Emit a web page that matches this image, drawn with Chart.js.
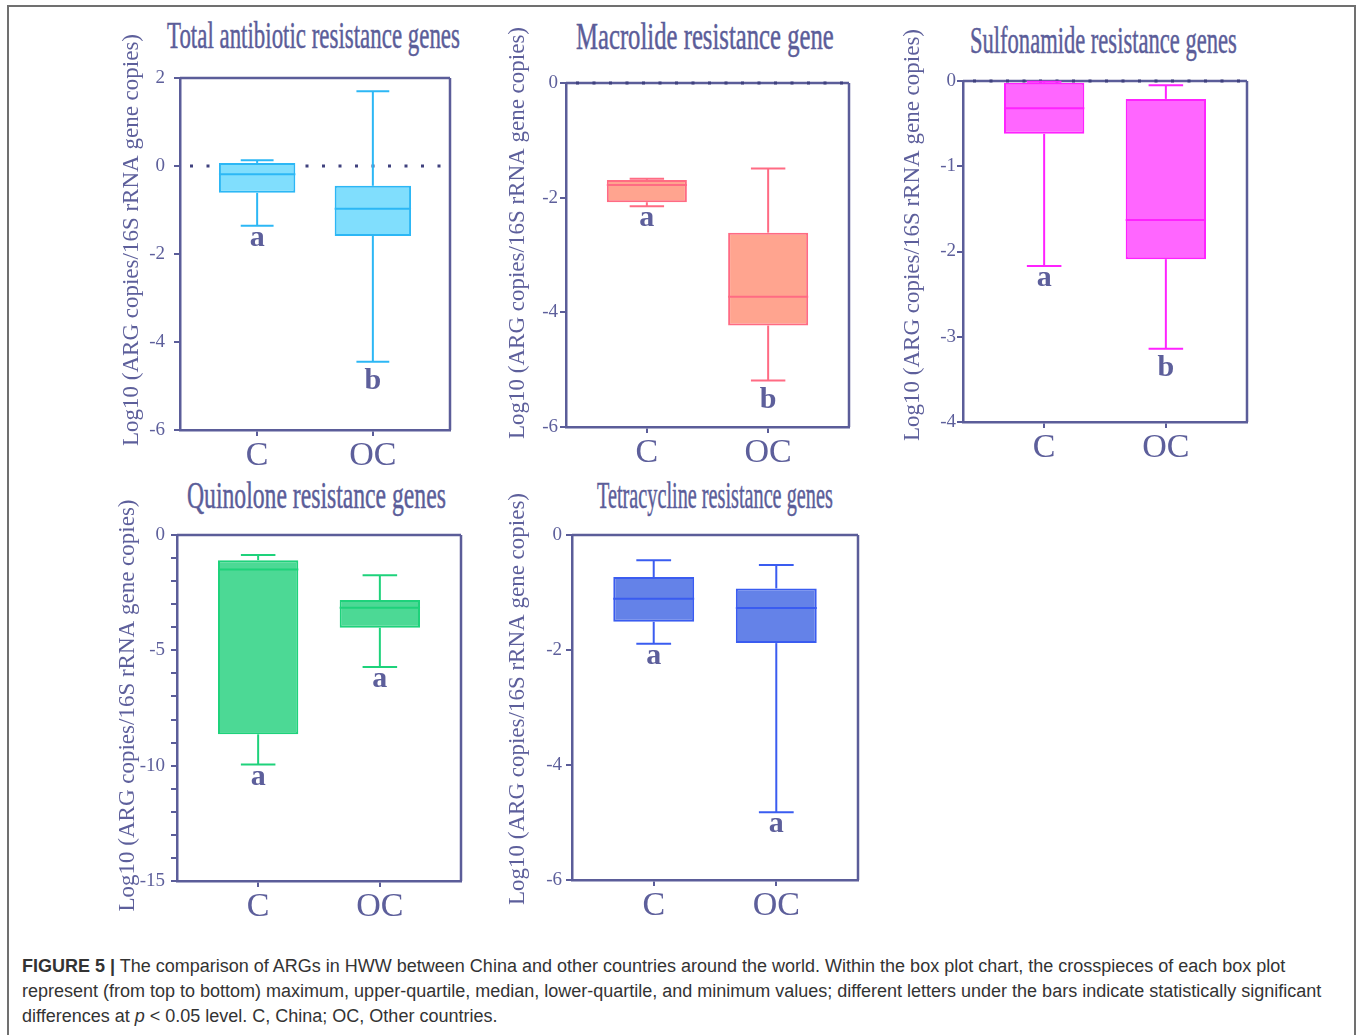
<!DOCTYPE html>
<html>
<head>
<meta charset="utf-8">
<script src="https://cdn.jsdelivr.net/npm/chart.js@4.4.1/dist/chart.umd.min.js"></script>
<style>
html,body{margin:0;padding:0;background:#fff;}
body{width:1360px;height:1035px;position:relative;overflow:hidden;}
#frame{position:absolute;left:7px;top:5px;width:1349px;height:1045px;border:2px solid #707070;box-sizing:border-box;}
.cv{position:absolute;}
.head{position:absolute;font-family:'Liberation Serif','Times New Roman',serif;font-size:38px;line-height:38px;color:#5b5d99;white-space:nowrap;transform-origin:0 0;-webkit-text-stroke:0.5px #5b5d99;}
#caption{position:absolute;left:22px;top:954px;font-family:'Liberation Sans',Arial,sans-serif;font-size:18px;line-height:25px;color:#333;white-space:nowrap;}
</style>
</head>
<body>
<div id="frame"></div>
<div id="caption"><b>FIGURE 5 |</b> The comparison of ARGs in HWW between China and other countries around the world. Within the box plot chart, the crosspieces of each box plot<br>represent (from top to bottom) maximum, upper-quartile, median, lower-quartile, and minimum values; different letters under the bars indicate statistically significant<br>differences at <i>p</i> &lt; 0.05 level. C, China; OC, Other countries.</div>
<script>
// ---------------- DATA ----------------
const categories = ['C', 'OC'];
const panelTitles = ['Total antibiotic resistance genes', 'Macrolide resistance gene', 'Sulfonamide resistance genes', 'Quinolone resistance genes', 'Tetracycline resistance genes'];
const yAxisTitle = 'Log10 (ARG copies/16S rRNA gene copies)';

// Total antibiotic resistance genes  [C, OC]
const totalMax     = [0.13, 1.70];
const totalQ3      = [0.07, -0.45];
const totalMedian  = [-0.19, -0.97];
const totalQ1      = [-0.61, -1.59];
const totalMin     = [-1.36, -4.45];
const totalLetters = ['a', 'b'];

// Macrolide resistance gene
const macroMax     = [-1.67, -1.49];
const macroQ3      = [-1.69, -2.61];
const macroMedian  = [-1.78, -3.73];
const macroQ1      = [-2.08, -4.23];
const macroMin     = [-2.15, -5.19];
const macroLetters = ['a', 'b'];

// Sulfonamide resistance genes
const sulfMax      = [-0.01, -0.05];
const sulfQ3       = [-0.02, -0.21];
const sulfMedian   = [-0.32, -1.63];
const sulfQ1       = [-0.62, -2.09];
const sulfMin      = [-2.17, -3.14];
const sulfLetters  = ['a', 'b'];

// Quinolone resistance genes
const quinMax      = [-0.87, -1.74];
const quinQ3       = [-1.09, -2.82];
const quinMedian   = [-1.50, -3.15];
const quinQ1       = [-8.64, -4.02];
const quinMin      = [-9.95, -5.72];
const quinLetters  = ['a', 'a'];

// Tetracycline resistance genes
const tetMax       = [-0.44, -0.52];
const tetQ3        = [-0.73, -0.93];
const tetMedian    = [-1.11, -1.27];
const tetQ1        = [-1.51, -1.88];
const tetMin       = [-1.89, -4.82];
const tetLetters   = ['a', 'a'];

// y axes
const yMins        = [-6, -6, -4, -15, -6];
const yMaxs        = [2, 0, 0, 0, 0];
const yTickSteps   = [2, 2, 1, 1, 2];
const yLabelSteps  = [2, 2, 1, 5, 2];
const zeroLineShown = [true, true, true, false, false];

const seriesByPanel = [
  {max: totalMax, q3: totalQ3, med: totalMedian, q1: totalQ1, min: totalMin, letters: totalLetters},
  {max: macroMax, q3: macroQ3, med: macroMedian, q1: macroQ1, min: macroMin, letters: macroLetters},
  {max: sulfMax,  q3: sulfQ3,  med: sulfMedian,  q1: sulfQ1,  min: sulfMin,  letters: sulfLetters},
  {max: quinMax,  q3: quinQ3,  med: quinMedian,  q1: quinQ1,  min: quinMin,  letters: quinLetters},
  {max: tetMax,   q3: tetQ3,   med: tetMedian,   q1: tetQ1,   min: tetMin,   letters: tetLetters}
];

// ---------------- LAYOUT / STYLE ----------------
const AXIS = '#5b5d99';
const TEXT = '#5d5f9b';
const DOTS = '#3f417e';
const SERIF = "'Liberation Serif','Times New Roman',serif";
const YW = 80, PAD_T = 55, PAD_R = 20, XH = 45;

const layout = [
  {L:180, R:450,  T:78,  B:430, tp:9, head:{cx:313,  base:48,  w:293}, yt:{x:132,   y:240},   fill:'#80defd', stroke:'#2cb7f5'},
  {L:566, R:849,  T:83,  B:427, tp:2, head:{cx:705,  base:49,  w:258}, yt:{x:517.5, y:233},   fill:'#ffa48f', stroke:'#ff6b83'},
  {L:963, R:1247, T:81,  B:422, tp:1, head:{cx:1103, base:53,  w:267}, yt:{x:912.5, y:235},   fill:'#ff66ff', stroke:'#ff22ff'},
  {L:177, R:461,  T:535, B:881, tp:6, head:{cx:316,  base:508, w:259}, yt:{x:127.5, y:705.5}, fill:'#4cd995', stroke:'#1ed27b'},
  {L:572, R:858,  T:535, B:880, tp:4, head:{cx:715,  base:508, w:236}, yt:{x:517.5, y:699},   fill:'#6482e8', stroke:'#3a5cf0'}
];

// headings (real text, horizontally condensed)
layout.forEach((lay, i) => {
  const d = document.createElement('div');
  d.className = 'head';
  d.textContent = panelTitles[i];
  document.body.appendChild(d);
  const nat = d.offsetWidth;
  d.style.left = (lay.head.cx - lay.head.w / 2) + 'px';
  d.style.top = (lay.head.base - 31.8) + 'px';
  d.style.transform = 'scaleX(' + (lay.head.w / nat) + ')';
});

function line(ctx, x1, y1, x2, y2) {
  ctx.beginPath(); ctx.moveTo(x1, y1); ctx.lineTo(x2, y2); ctx.stroke();
}

const boxPlugin = {
  id: 'boxplot',
  beforeDatasetsDraw(chart, args, opts) {
    const {ctx, chartArea: a, scales: {y}} = chart;
    const p = opts.p;
    ctx.save();
    ctx.strokeStyle = AXIS; ctx.lineWidth = 2.5;
    line(ctx, a.left, a.top, a.right, a.top);
    line(ctx, a.right, a.top, a.right, a.bottom);
    if (p.zero) {
      const y0 = y.getPixelForValue(0);
      ctx.strokeStyle = DOTS; ctx.lineWidth = 3.2;
      ctx.setLineDash([3, 13.5]);
      line(ctx, a.left + 10, y0, a.right, y0);
      ctx.setLineDash([]);
    }
    ctx.fillStyle = TEXT;
    ctx.font = '23px ' + SERIF;
    ctx.textAlign = 'center'; ctx.textBaseline = 'middle';
    ctx.translate(p.lay.yt.x - p.cl, p.lay.yt.y - p.ct);
    ctx.rotate(-Math.PI / 2);
    ctx.fillText(yAxisTitle, 0, 0);
    ctx.restore();
  },
  afterDatasetsDraw(chart, args, opts) {
    const {ctx, scales: {y}} = chart;
    const p = opts.p, s = p.s;
    const meta = chart.getDatasetMeta(0);
    ctx.save();
    meta.data.forEach((bar, i) => {
      const cx = bar.x, w = bar.width, cap = w * 0.43;
      const pMax = y.getPixelForValue(s.max[i]);
      const pQ3 = y.getPixelForValue(s.q3[i]);
      const pMed = y.getPixelForValue(s.med[i]);
      const pQ1 = y.getPixelForValue(s.q1[i]);
      const pMin = y.getPixelForValue(s.min[i]);
      ctx.strokeStyle = p.lay.stroke; ctx.lineWidth = 2;
      line(ctx, cx, pQ3, cx, pMax);
      line(ctx, cx - cap / 2, pMax, cx + cap / 2, pMax);
      line(ctx, cx, pQ1, cx, pMin);
      line(ctx, cx - cap / 2, pMin, cx + cap / 2, pMin);
      line(ctx, cx - w / 2, pMed, cx + w / 2, pMed);
      ctx.fillStyle = TEXT;
      ctx.font = 'bold 30px ' + SERIF;
      ctx.textAlign = 'center'; ctx.textBaseline = 'alphabetic';
      const asc = ctx.measureText(s.letters[i]).actualBoundingBoxAscent;
      ctx.fillText(s.letters[i], cx, pMin + 6 + asc);
    });
    ctx.restore();
  }
};

layout.forEach((lay, i) => {
  const s = seriesByPanel[i];
  const cl = lay.L - YW, ct = lay.T - PAD_T;
  const W = (lay.R - lay.L) + YW + PAD_R, H = (lay.B - lay.T) + PAD_T + XH;
  const cv = document.createElement('canvas');
  cv.className = 'cv';
  cv.style.left = cl + 'px'; cv.style.top = ct + 'px';
  cv.style.width = W + 'px'; cv.style.height = H + 'px';
  cv.width = W; cv.height = H;
  document.body.appendChild(cv);
  new Chart(cv, {
    type: 'bar',
    data: {
      datasets: [{
        data: categories.map((c, k) => ({x: k + 1, y: [s.q1[k], s.q3[k]]})),
        backgroundColor: lay.fill,
        borderColor: lay.stroke,
        borderWidth: 2,
        borderSkipped: false,
        barPercentage: 0.66,
        categoryPercentage: 1
      }]
    },
    options: {
      responsive: false,
      animation: false,
      events: [],
      layout: {padding: {top: PAD_T, right: PAD_R, left: 0, bottom: 0}},
      plugins: {legend: {display: false}, tooltip: {enabled: false}, title: {display: false},
                boxplot: {p: {s, lay, cl, ct, zero: zeroLineShown[i]}}},
      scales: {
        x: {
          type: 'linear', min: 1 / 3, max: 8 / 3, offset: false,
          afterBuildTicks: sc => { sc.ticks = categories.map((c, k) => ({value: k + 1})); },
          afterFit: sc => { sc.height = XH; },
          ticks: {callback: v => categories[v - 1] || '', font: {family: SERIF, size: 34}, color: TEXT, padding: 0, autoSkip: false, maxRotation: 0},
          grid: {display: true, offset: false, drawOnChartArea: false, drawTicks: true, tickLength: 6, color: AXIS, lineWidth: 2},
          border: {display: true, color: AXIS, width: 2.5}
        },
        y: {
          type: 'linear', min: yMins[i], max: yMaxs[i],
          afterFit: sc => { sc.width = YW; },
          ticks: {stepSize: yTickSteps[i], autoSkip: false,
                  callback: v => (Math.abs(v % yLabelSteps[i]) < 1e-9 ? String(v) : ''),
                  font: {family: SERIF, size: 19}, color: TEXT, padding: lay.tp},
          grid: {display: true, drawOnChartArea: false, drawTicks: true, tickLength: 6, color: AXIS, lineWidth: 2},
          border: {display: true, color: AXIS, width: 2.5}
        }
      }
    },
    plugins: [boxPlugin]
  });
});
</script>
</body>
</html>
